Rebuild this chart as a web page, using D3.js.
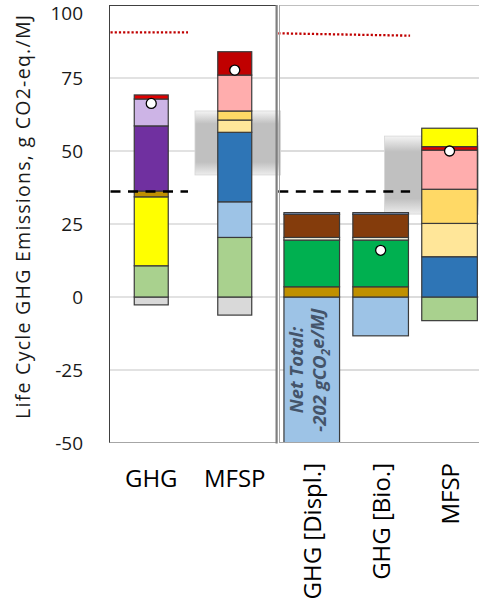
<!DOCTYPE html>
<html>
<head>
<meta charset="utf-8">
<script src="https://cdn.jsdelivr.net/npm/d3@7/dist/d3.min.js"></script>
<style>
  html, body { margin: 0; padding: 0; background: #fff; }
  svg { display: block; font-family: "Open Sans", "DejaVu Sans", sans-serif; }
</style>
</head>
<body>
<svg id="chart" width="479" height="603"></svg>
<script>
// ---- data ----------------------------------------------------------------
const yTicks = [-50, -25, 0, 25, 50, 75, 100];

const leftCategories = ["GHG", "MFSP"];
const rightCategories = ["GHG [Displ.]", "GHG [Bio.]", "MFSP"];

// stacked contributions (component key, value in g CO2-eq./MJ)
const leftGhg = [["grey", -2.7], ["lightGreen", 10.7], ["yellow", 23.6], ["gold", 2.0],
                 ["purple", 22.3], ["lavender", 9.2], ["red", 1.4]];
const leftMfsp = [["grey", -6.2], ["lightGreen", 20.4], ["lightBlue", 12.2], ["blue", 23.8],
                  ["cream", 4.2], ["amber", 3.1], ["pink", 12.3], ["darkRed", 8.0]];
const rightDispl = [["lightBlue", -230.9], ["gold", 3.5], ["green", 16.0], ["ivory", 0.9],
                    ["brown", 7.9], ["steel", 0.6]];
const rightBio = [["lightBlue", -13.3], ["gold", 3.5], ["green", 16.0], ["ivory", 0.9],
                  ["brown", 7.9], ["steel", 0.6]];
const rightMfsp = [["lightGreen", -8.1], ["blue", 13.8], ["cream", 11.4], ["amber", 11.7],
                   ["pink", 13.4], ["red", 1.2], ["yellow", 6.3]];

// net values shown as markers
const leftNet = [66.3, 77.7];
const rightNet = [null, 16.0, 50.0];

// shaded ranges behind the MFSP bars [low, high]
const leftRange = [41.8, 63.7];
const rightRange = [28.4, 55.1];

// reference levels
const leftDashed = 36.1, rightDashed = 36.1;
const leftDotted = [90.6, 90.6], rightDotted = [90.3, 89.5];

// ---- styles --------------------------------------------------------------
const colors = {
  grey: "#D9D9D9", lightGreen: "#A9D18E", yellow: "#FFFF00", gold: "#BF9000",
  purple: "#7030A0", lavender: "#CDB4E6", red: "#E00000", darkRed: "#C00000",
  lightBlue: "#9DC3E6", blue: "#2E75B6", cream: "#FFE699", amber: "#FFD966",
  pink: "#FFADAD", green: "#00B050", ivory: "#F4F2DC", brown: "#843C0C", steel: "#8EA9DB"
};

// ---- layout --------------------------------------------------------------
const svg = d3.select("#chart");
const plotTop = 5, plotBottom = 443;
const y = d3.scaleLinear().domain([-50, 100]).range([plotBottom, plotTop]);

const xLeft = d3.scaleBand().domain(leftCategories).range([109.5, 276.5])
  .paddingInner(0.593).paddingOuter(0.2965);
const xRight = d3.scaleBand().domain(rightCategories).range([277.3, 484])
  .paddingInner(0.193).paddingOuter(0.0965);

const defs = svg.append("defs");
defs.append("clipPath").attr("id", "plotClip")
  .append("rect").attr("x", 0).attr("y", plotTop).attr("width", 479).attr("height", plotBottom - plotTop);

const grad = defs.append("linearGradient").attr("id", "rangeFill")
  .attr("x1", 0).attr("y1", 0).attr("x2", 0).attr("y2", 1);
[[0, "#F4F4F4"], [0.2, "#C0C0C0"], [0.8, "#C0C0C0"], [1, "#EDEDED"]].forEach(([o, c]) =>
  grad.append("stop").attr("offset", o).attr("stop-color", c));

// gridlines
function grid(x0, x1, stroke) {
  svg.append("g").selectAll("line").data(yTicks.filter(t => t > -50 && t < 100)).join("line")
    .attr("x1", x0).attr("x2", x1)
    .attr("y1", d => y(d)).attr("y2", d => y(d))
    .attr("stroke", stroke).attr("stroke-width", 1.3);
}
grid(109.5, 276, "#D9D9D9");
grid(279, 479, "#D0D0D0");

// y-axis tick labels (the top one kept inside the page)
svg.append("g").selectAll("text").data(yTicks).join("text")
  .attr("x", 83).attr("y", d => Math.max(y(d), 13.8)).attr("dy", "0.35em")
  .attr("text-anchor", "end").attr("font-size", 19).attr("fill", "#1a1a1a")
  .text(d => d);

// y-axis title
svg.append("text")
  .attr("transform", `translate(30,217) rotate(-90)`)
  .attr("text-anchor", "middle").attr("font-size", 19.5).attr("fill", "#1a1a1a")
  .attr("textLength", 404).attr("lengthAdjust", "spacing")
  .text("Life Cycle GHG Emissions, g CO2-eq./MJ");

// shaded ranges
function rangeBox(scale, cat, r) {
  const c = scale(cat) + scale.bandwidth() / 2, bw = scale.bandwidth();
  svg.append("rect")
    .attr("x", c - 1.17 * bw).attr("width", 2.52 * bw)
    .attr("y", y(r[1])).attr("height", y(r[0]) - y(r[1]))
    .attr("fill", "url(#rangeFill)").attr("stroke", "#D6D6D6").attr("stroke-width", 0.8);
}
rangeBox(xLeft, "MFSP", leftRange);
rangeBox(xRight, "MFSP", rightRange);

// stacked bars
const plot = svg.append("g").attr("clip-path", "url(#plotClip)");
function stackedBar(scale, cat, segs) {
  let pos = 0, neg = 0;
  const rows = segs.map(([k, v]) => {
    let y0, y1;
    if (v >= 0) { y0 = pos; y1 = pos + v; pos = y1; }
    else { y0 = neg + v; y1 = neg; neg = y0; }
    return { k, y0, y1 };
  });
  plot.append("g").selectAll("rect").data(rows).join("rect")
    .attr("x", scale(cat)).attr("width", scale.bandwidth())
    .attr("y", d => y(d.y1)).attr("height", d => y(d.y0) - y(d.y1))
    .attr("fill", d => colors[d.k])
    .attr("stroke", "#3a3a3a").attr("stroke-width", 1.2);
}
stackedBar(xLeft, "GHG", leftGhg);
stackedBar(xLeft, "MFSP", leftMfsp);
stackedBar(xRight, "GHG [Displ.]", rightDispl);
stackedBar(xRight, "GHG [Bio.]", rightBio);
stackedBar(xRight, "MFSP", rightMfsp);

// net total annotation inside the displacement bar
const netTotal = Math.round(d3.sum(rightDispl, d => d[1]));
const nx = xRight("GHG [Displ.]") + xRight.bandwidth() / 2;
const ny = (y(0) + plotBottom) / 2;
const note = svg.append("text")
  .attr("transform", `translate(${nx - 3},${ny}) rotate(-90)`)
  .attr("text-anchor", "middle").attr("font-size", 18.5)
  .attr("font-weight", "bold").attr("font-style", "italic").attr("fill", "#44546A");
note.append("tspan").attr("x", 0).attr("dy", "-0.3em").text("Net Total:");
const l2 = note.append("tspan").attr("x", 0).attr("dy", "1.25em");
l2.append("tspan").text(`${netTotal} gCO`);
l2.append("tspan").attr("font-size", 12).attr("dy", "0.3em").text("2");
l2.append("tspan").attr("dy", "-0.3em").text("e/MJ");

// reference lines
function refLines(scale, cats, dashed, dotted) {
  const [a, b] = [cats[cats.length - 2], cats[cats.length - 1]];
  const xEnd = (scale(a) + scale(b) + scale.bandwidth()) / 2 - 5;
  const x0 = scale.range()[0] + 1;
  svg.append("line").attr("x1", x0).attr("x2", xEnd)
    .attr("y1", y(dotted[0])).attr("y2", y(dotted[1]))
    .attr("stroke", "#C00000").attr("stroke-width", 2.3).attr("stroke-dasharray", "2.2,2");
  svg.append("line").attr("x1", x0).attr("x2", xEnd)
    .attr("y1", y(dashed)).attr("y2", y(dashed))
    .attr("stroke", "#000").attr("stroke-width", 2.5).attr("stroke-dasharray", "10,7.5");
}
refLines(xLeft, leftCategories, leftDashed, leftDotted);
refLines(xRight, rightCategories, rightDashed, rightDotted);

// net markers
function markers(scale, cats, vals) {
  svg.append("g").selectAll("circle")
    .data(cats.map((c, i) => ({ c, v: vals[i] })).filter(d => d.v != null)).join("circle")
    .attr("cx", d => scale(d.c) + scale.bandwidth() / 2).attr("cy", d => y(d.v))
    .attr("r", 5).attr("fill", "#fff").attr("stroke", "#000").attr("stroke-width", 1.3);
}
markers(xLeft, leftCategories, leftNet);
markers(xRight, rightCategories, rightNet);

// panel frames
svg.append("line").attr("x1", 109.5).attr("x2", 276).attr("y1", 5.5).attr("y2", 5.5).attr("stroke", "#404040");
svg.append("line").attr("x1", 109.5).attr("x2", 109.5).attr("y1", 5).attr("y2", 443).attr("stroke", "#404040");
svg.append("line").attr("x1", 109.5).attr("x2", 276).attr("y1", 442.5).attr("y2", 442.5).attr("stroke", "#A6A6A6");
svg.append("rect").attr("x", 275.5).attr("y", 5).attr("width", 2.2).attr("height", 438.5).attr("fill", "#7F7F7F");
svg.append("line").attr("x1", 279.5).attr("x2", 479).attr("y1", 5.5).attr("y2", 5.5).attr("stroke", "#BFBFBF");
svg.append("line").attr("x1", 279.5).attr("x2", 279.5).attr("y1", 5).attr("y2", 443).attr("stroke", "#A6A6A6");
svg.append("line").attr("x1", 279.5).attr("x2", 479).attr("y1", 442.5).attr("y2", 442.5).attr("stroke", "#A6A6A6");

// category labels
svg.append("g").selectAll("text").data(leftCategories).join("text")
  .attr("x", d => xLeft(d) + xLeft.bandwidth() / 2).attr("y", 487)
  .attr("text-anchor", "middle").attr("font-size", 24).attr("fill", "#000")
  .text(d => d);
svg.append("g").selectAll("text").data(rightCategories).join("text")
  .attr("transform", d => `translate(${xRight(d) + xRight.bandwidth() / 2 + 1},463) rotate(-90)`)
  .attr("dy", "0.35em").attr("text-anchor", "end").attr("font-size", 24).attr("fill", "#000")
  .text(d => d);
</script>
</body>
</html>
